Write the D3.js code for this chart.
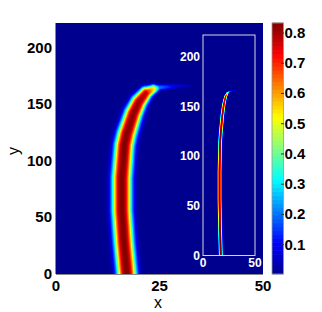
<!DOCTYPE html>
<html>
<head>
<meta charset="utf-8">
<script src="https://cdn.jsdelivr.net/npm/d3@7"></script>
<style>
  body { margin: 0; background: #fff; }
  svg { display: block; font-family: "Liberation Sans", Arial, sans-serif; }
</style>
</head>
<body>
<svg id="chart" width="322" height="312"></svg>
<script>
// centre line of the band (data units)
const lineY = [-20, 0, 28, 56, 85, 114, 124, 142, 152, 160, 163.5, 165, 166, 166.5];
const lineX = [17.5, 17.1, 16.4, 15.9, 15.9, 16.5, 17.1, 18.7, 20.0, 21.7, 23.5, 25.0, 29, 33];
// peak value along the line
const peakVal = [0.83, 0.83, 0.83, 0.83, 0.83, 0.83, 0.83, 0.82, 0.81, 0.77, 0.55, 0.2, 0.08, 0.02];
// band half width (x units) for the main plot and for the inset
const widthMain = [2.3, 2.3, 2.3, 2.3, 2.3, 2.25, 2.2, 2.05, 1.85, 1.5, 1.1, 0.7, 0.5, 0.4];
const widthInset = [1.7, 1.7, 1.7, 1.7, 1.7, 1.65, 1.65, 1.6, 1.5, 1.3, 1.1, 0.8, 0.5, 0.4];
const profileExp = 2.7;

const xTicks = [0, 25, 50];
const yTicks = [0, 50, 100, 150, 200];
const insetXTicks = [0, 50];
const cbTicks = [0.1, 0.2, 0.3, 0.4, 0.5, 0.6, 0.7, 0.8];
const cbDomain = [0.003, 0.833];
// jet colormap stops
const jetStops = [0, 0.125, 0.375, 0.625, 0.875, 1];
const jetColors = ["#00008f", "#0000ff", "#00ffff", "#ffff00", "#ff0000", "#800000"];

const svg = d3.select("#chart");
const jet = d3.scaleLinear().domain(jetStops).range(jetColors).interpolate(d3.interpolateRgb);
const color = v => jet(Math.max(0, Math.min(1, (v - cbDomain[0]) / (cbDomain[1] - cbDomain[0]))));

function drawField(g, x, y, wid) {
  const [x0, x1] = x.range(), [y1, y0] = y.range();
  const w = Math.round(x1 - x0), h = Math.round(y1 - y0);
  const pxPerUnit = x(1) - x(0);
  const pts = lineY.map((d, i) => ({px: x(lineX[i]) - x0, py: y(d) - y0, p: peakVal[i], s: wid[i] * pxPerUnit}));
  const cv = document.createElement("canvas");
  cv.width = w; cv.height = h;
  const ctx = cv.getContext("2d");
  const img = ctx.createImageData(w, h);
  for (let j = 0; j < h; j++) {
    for (let i = 0; i < w; i++) {
      const cx = i + 0.5, cy = j + 0.5;
      let best = 0;
      for (let k = 0; k < pts.length - 1; k++) {
        const a = pts[k], b = pts[k + 1];
        const dx = b.px - a.px, dy = b.py - a.py;
        let t = ((cx - a.px) * dx + (cy - a.py) * dy) / (dx * dx + dy * dy);
        t = Math.max(0, Math.min(1, t));
        const qx = a.px + t * dx - cx, qy = a.py + t * dy - cy;
        const s = a.s + t * (b.s - a.s), p = a.p + t * (b.p - a.p);
        const v = p * Math.exp(-Math.pow(Math.sqrt(qx * qx + qy * qy) / s, profileExp));
        if (v > best) best = v;
      }
      const c = d3.rgb(color(best));
      const o = (j * w + i) * 4;
      img.data[o] = c.r; img.data[o + 1] = c.g; img.data[o + 2] = c.b; img.data[o + 3] = 255;
    }
  }
  ctx.putImageData(img, 0, 0);
  g.append("image").attr("x", x0).attr("y", y0).attr("width", w).attr("height", h)
    .attr("href", cv.toDataURL());
}

// main plot
const x = d3.scaleLinear().domain([0, 50]).range([56, 263]);
const y = d3.scaleLinear().domain([0, 222]).range([274, 23]);
drawField(svg.append("g"), x, y, widthMain);

svg.append("line").attr("x1", 55.5).attr("x2", 55.5).attr("y1", 23).attr("y2", 274).attr("stroke", "#888");
svg.append("line").attr("x1", 56).attr("x2", 263).attr("y1", 274.5).attr("y2", 274.5).attr("stroke", "#888");

svg.append("g").selectAll("text").data(xTicks).join("text")
  .attr("x", d => x(d)).attr("y", 291).attr("text-anchor", "middle")
  .attr("font-size", 15).attr("font-weight", "bold").text(d => d);
svg.append("g").selectAll("text").data(yTicks).join("text")
  .attr("x", 52).attr("y", d => y(d) + 5).attr("text-anchor", "end")
  .attr("font-size", 15).attr("font-weight", "bold").text(d => d);
svg.append("text").attr("x", 158).attr("y", 308).attr("text-anchor", "middle")
  .attr("font-size", 16).text("x");
svg.append("text").attr("transform", "translate(19,151) rotate(-90)").attr("text-anchor", "middle")
  .attr("font-size", 16).text("y");

// inset
const ix = d3.scaleLinear().domain([0, 50]).range([203, 255]);
const iy = d3.scaleLinear().domain([0, 222]).range([255.5, 35]);
drawField(svg.append("g"), ix, iy, widthInset);
svg.append("rect").attr("x", 203).attr("y", 35).attr("width", 52).attr("height", 220.5)
  .attr("fill", "none").attr("stroke", "#d8d8d8");
svg.append("g").selectAll("text").data(insetXTicks).join("text")
  .attr("x", d => ix(d)).attr("y", 267).attr("text-anchor", "middle").attr("fill", "#fff")
  .attr("font-size", 12).attr("font-weight", "bold").text(d => d);
svg.append("g").selectAll("text").data(yTicks).join("text")
  .attr("x", 200).attr("y", d => iy(d) + 4).attr("text-anchor", "end").attr("fill", "#fff")
  .attr("font-size", 12).attr("font-weight", "bold").text(d => d);

// colorbar
const cb = d3.scaleLinear().domain(cbDomain).range([274, 23]);
const bands = d3.range(64).map(i => cbDomain[0] + (i + 0.5) * (cbDomain[1] - cbDomain[0]) / 64);
const bh = (cb.range()[0] - cb.range()[1]) / 64;
svg.append("g").selectAll("rect").data(bands).join("rect")
  .attr("x", 272).attr("width", 11.5)
  .attr("y", d => cb(d) - bh / 2 - 0.3).attr("height", bh + 0.6)
  .attr("fill", d => color(d));
svg.append("rect").attr("x", 272).attr("y", 23).attr("width", 11.5).attr("height", 251)
  .attr("fill", "none").attr("stroke", "#999").attr("stroke-width", 0.8);
svg.append("g").selectAll("line").data(cbTicks).join("line")
  .attr("x1", 281).attr("x2", 284).attr("y1", d => cb(d)).attr("y2", d => cb(d))
  .attr("stroke", "#333");
svg.append("g").selectAll("text").data(cbTicks).join("text")
  .attr("x", 284.5).attr("y", d => cb(d) + 5)
  .attr("font-size", 15).attr("font-weight", "bold").text(d => d3.format(".1f")(d));
</script>
</body>
</html>
